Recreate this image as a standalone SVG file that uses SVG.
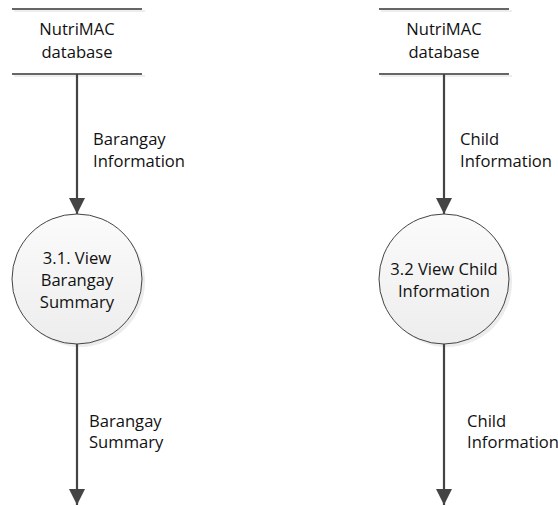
<svg xmlns="http://www.w3.org/2000/svg" width="558" height="506" viewBox="0 0 558 506">
<style>
text{font-family:"Open Sans","Liberation Sans",sans-serif;font-size:16.6px;fill:#111}
.c{text-anchor:middle}
.store{stroke:#333;stroke-width:1.3}
.shadow{stroke:#eeeeee;stroke-width:2}
.proc{fill:url(#g);stroke:#444;stroke-width:1}
.csh{fill:#ececec}
.flow{stroke:#444;stroke-width:2.2;fill:none;marker-end:url(#ah)}
</style>
<defs>
<linearGradient id="g" x1="0" y1="0" x2="0" y2="1">
<stop offset="0" stop-color="#fbfbfb"/>
<stop offset="1" stop-color="#ededed"/>
</linearGradient>
<marker id="ah" markerWidth="16" markerHeight="16" refX="16" refY="8" orient="auto" markerUnits="userSpaceOnUse" viewBox="0 0 16 16">
<path d="M0,0 L16,8 L0,16 Z" fill="#444"/>
</marker>
</defs>
<g id="store1">
<line class="shadow" x1="14" y1="11" x2="145" y2="11"/>
<line class="shadow" x1="14" y1="76" x2="145" y2="76"/>
<line class="store" x1="12" y1="9" x2="142" y2="9"/>
<line class="store" x1="12" y1="74" x2="142" y2="74"/>
<text class="c" x="77" y="35">NutriMAC</text>
<text class="c" x="77" y="58">database</text>
</g>
<g id="store2">
<line class="shadow" x1="381" y1="11" x2="512" y2="11"/>
<line class="shadow" x1="381" y1="76" x2="512" y2="76"/>
<line class="store" x1="379" y1="9" x2="509" y2="9"/>
<line class="store" x1="379" y1="74" x2="509" y2="74"/>
<text class="c" x="444" y="35">NutriMAC</text>
<text class="c" x="444" y="58">database</text>
</g>
<g id="proc1">
<circle class="csh" cx="80" cy="282" r="65"/>
<circle class="proc" cx="77" cy="279" r="65"/>
<text class="c" x="77" y="264">3.1. View</text>
<text class="c" x="77" y="286">Barangay</text>
<text class="c" x="77" y="308">Summary</text>
</g>
<g id="proc2">
<circle class="csh" cx="447" cy="282" r="65"/>
<circle class="proc" cx="444" cy="279" r="65"/>
<text class="c" x="444" y="275">3.2 View Child</text>
<text class="c" x="444" y="297">Information</text>
</g>
<g id="connectors">
<line class="flow" x1="77" y1="74" x2="77" y2="214"/>
<line class="flow" x1="444" y1="74" x2="444" y2="214"/>
<line class="flow" x1="77" y1="344" x2="77" y2="505"/>
<line class="flow" x1="444" y1="344" x2="444" y2="505"/>
<text x="93" y="145">Barangay</text>
<text x="93" y="167">Information</text>
<text x="460" y="145">Child</text>
<text x="460" y="167">Information</text>
<text x="89" y="427">Barangay</text>
<text x="89" y="448">Summary</text>
<text x="467" y="427">Child</text>
<text x="467" y="448">Information</text>
</g>
</svg>
